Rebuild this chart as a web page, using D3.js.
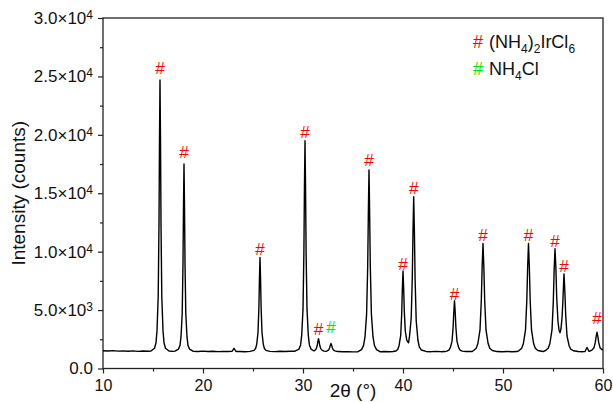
<!DOCTYPE html>
<html>
<head>
<meta charset="utf-8">
<script src="https://cdn.jsdelivr.net/npm/d3@7"></script>
<style>
  body { margin: 0; background: #fff; }
  svg { font-family: "Liberation Sans", Arial, sans-serif; }
</style>
</head>
<body>
<svg id="chart"></svg>
<script>
const width = 613;
const height = 402;

// XRD pattern: [2theta (deg), intensity (counts)]
const pattern = [
  [10.0, 1520], [10.5, 1500], [11.0, 1530], [11.5, 1490], [12.0, 1510], [12.5, 1480],
  [13.0, 1505], [13.5, 1470], [14.0, 1495], [14.5, 1480], [14.8, 1500],
  [15.15, 1730], [15.3, 2200], [15.4, 3240], [15.52, 6140], [15.6, 12400], [15.65, 19600],
  [15.7, 24700], [15.75, 19600], [15.8, 12400], [15.88, 6140], [16.0, 3240], [16.1, 2200],
  [16.25, 1730], [16.6, 1500], [17.0, 1470], [17.2, 1490],
  [17.55, 1660], [17.7, 1980], [17.8, 2700], [17.92, 4700], [18.0, 9020], [18.05, 13980],
  [18.1, 17500], [18.15, 13980], [18.2, 9020], [18.28, 4700], [18.4, 2700], [18.5, 1980],
  [18.65, 1660], [19.0, 1480], [19.5, 1460], [20.0, 1490], [20.5, 1455], [21.0, 1480],
  [21.5, 1445], [22.0, 1470], [22.5, 1450], [22.9, 1470], [23.1, 1720], [23.3, 1460],
  [23.7, 1450], [24.2, 1435], [24.7, 1470],
  [25.1, 1550], [25.26, 1710], [25.37, 2070], [25.5, 3080], [25.59, 5240], [25.645, 7730],
  [25.7, 9500], [25.755, 7730], [25.81, 5240], [25.9, 3080], [26.03, 2070], [26.14, 1710],
  [26.3, 1550], [26.7, 1470], [27.2, 1445], [27.7, 1480], [28.2, 1455], [28.7, 1480],
  [29.2, 1480], [29.6, 1660], [29.76, 2020], [29.87, 2830], [30.0, 5080], [30.09, 9950],
  [30.145, 15540], [30.2, 19500], [30.255, 15540], [30.31, 9950], [30.4, 5080], [30.53, 2830],
  [30.64, 2020], [30.8, 1660], [31.1, 1500],
  [31.2, 1560], [31.33, 1700], [31.43, 1990], [31.49, 2320], [31.55, 2550], [31.61, 2320],
  [31.67, 1990], [31.77, 1700], [31.9, 1570], [32.1, 1490], [32.3, 1470],
  [32.41, 1510], [32.57, 1600], [32.67, 1780], [32.735, 2000], [32.8, 2150], [32.865, 2000],
  [32.93, 1780], [33.03, 1600], [33.19, 1510], [33.5, 1450], [34.0, 1430], [34.5, 1445],
  [35.0, 1420], [35.5, 1440],
  [35.85, 1620], [36.05, 1960], [36.2, 2700], [36.36, 4650], [36.47, 8750], [36.54, 13580],
  [36.6, 17000], [36.66, 13580], [36.73, 8750], [36.84, 4650], [37.0, 2700], [37.15, 1960],
  [37.35, 1620], [37.7, 1440], [38.2, 1455], [38.6, 1440], [39.0, 1450],
  [39.3, 1500], [39.48, 1650], [39.61, 1970], [39.77, 2830], [39.87, 4690], [39.935, 6830],
  [40.0, 8350], [40.065, 6900], [40.13, 4900], [40.23, 3200], [40.38, 2400], [40.55, 2200],
  [40.65, 2750], [40.82, 4300], [40.93, 7780], [41.0, 11800], [41.07, 14700], [41.14, 11700],
  [41.21, 7650], [41.32, 4100], [41.49, 2440], [41.63, 1850], [41.84, 1580], [42.3, 1460],
  [42.8, 1440], [43.3, 1465], [43.8, 1440], [44.2, 1450],
  [44.38, 1490], [44.59, 1580], [44.73, 1780], [44.9, 2320], [45.01, 3500], [45.08, 4840],
  [45.15, 5800], [45.22, 4840], [45.29, 3500], [45.4, 2320], [45.57, 1780], [45.71, 1580],
  [45.92, 1490], [46.3, 1450], [46.9, 1450],
  [47.06, 1540], [47.32, 1730], [47.49, 2140], [47.7, 3300], [47.83, 5800], [47.915, 8670],
  [48.0, 10700], [48.085, 8670], [48.17, 5800], [48.3, 3300], [48.51, 2140], [48.68, 1730],
  [48.94, 1540], [49.4, 1450], [49.9, 1430], [50.4, 1455], [50.9, 1440], [51.4, 1450],
  [51.61, 1540], [51.87, 1730], [52.04, 2140], [52.25, 3300], [52.38, 5800], [52.465, 8670],
  [52.55, 10700], [52.635, 8670], [52.72, 5800], [52.85, 3300], [53.06, 2140], [53.23, 1730],
  [53.49, 1540], [54.0, 1450],
  [54.26, 1540], [54.52, 1730], [54.69, 2140], [54.9, 3300], [55.03, 5700], [55.115, 8460],
  [55.2, 10250], [55.285, 8700], [55.37, 6100], [55.5, 4000], [55.6, 3300], [55.7, 3050],
  [55.8, 3400], [55.9, 4300], [55.98, 5600], [56.03, 6700], [56.1, 8100], [56.185, 6640],
  [56.27, 4580], [56.4, 2780], [56.61, 1950], [56.78, 1650], [57.04, 1520], [57.5, 1450],
  [58.0, 1440], [58.2, 1450], [58.4, 1800], [58.6, 1470],
  [58.72, 1500], [58.89, 1570], [59.1, 1780], [59.23, 2230], [59.315, 2740], [59.4, 3100],
  [59.485, 2740], [59.57, 2230], [59.7, 1780], [59.91, 1600], [60.0, 1640]
];

// "#" peak markers: position, label baseline (counts) and phase
const markerTheta  = [15.7, 18.1, 25.7, 30.2, 31.55, 32.8, 36.6, 40.0, 41.07, 45.15, 48.0, 52.55, 55.2, 56.1, 59.4];
const markerCounts = [25200, 18000, 9700, 19700, 2900, 3050, 17300, 8400, 14900, 5900, 10950, 10950, 10440, 8300, 3800];
const markerPhase  = [0, 0, 0, 0, 0, 1, 0, 0, 0, 0, 0, 0, 0, 0, 0];
const phaseColors  = ["#ff0000", "#00e600"];

// axes
const xTicks = [10, 20, 30, 40, 50, 60];
const xMinor = [15, 25, 35, 45, 55];
const yTicks = [0, 5000, 10000, 15000, 20000, 25000, 30000];
const yMinor = [2500, 7500, 12500, 17500, 22500, 27500];
const yTickMantissa = ["0.0", "5.0", "1.0", "1.5", "2.0", "2.5", "3.0"];
const yTickExp = ["", "3", "4", "4", "4", "4", "4"];

const margin = { left: 103, right: 10, top: 18, bottom: 33.5 };

const svg = d3.select("#chart")
    .attr("width", width)
    .attr("height", height);

const x = d3.scaleLinear().domain([10, 60]).range([margin.left, width - margin.right]);
const y = d3.scaleLinear().domain([0, 30000]).range([height - margin.bottom, margin.top]);

// minor ticks first, then major axes
svg.append("g")
    .attr("transform", `translate(0,${y(0)})`)
    .call(d3.axisBottom(x).tickValues(xMinor).tickSize(3).tickSizeOuter(0).tickFormat(""))
    .call(g => g.select(".domain").remove());

svg.append("g")
    .attr("transform", `translate(${x(10)},0)`)
    .call(d3.axisLeft(y).tickValues(yMinor).tickSize(3).tickSizeOuter(0).tickFormat(""))
    .call(g => g.select(".domain").remove());

const xAxis = svg.append("g")
    .attr("transform", `translate(0,${y(0)})`)
    .call(d3.axisBottom(x).tickValues(xTicks).tickSize(5).tickSizeOuter(0).tickPadding(6));
xAxis.select(".domain").remove();
xAxis.selectAll("text").attr("font-size", 16).attr("fill", "#111")
    .attr("font-family", "Liberation Sans, Arial, sans-serif");

const yAxis = svg.append("g")
    .attr("transform", `translate(${x(10)},0)`)
    .call(d3.axisLeft(y).tickValues(yTicks).tickSize(5).tickSizeOuter(0).tickPadding(5));
yAxis.select(".domain").remove();
yAxis.selectAll(".tick text")
    .attr("font-size", 17).attr("fill", "#111")
    .attr("font-family", "Liberation Sans, Arial, sans-serif")
    .each(function(d, i) {
        const t = d3.select(this).text(null);
        t.append("tspan").text(i === 0 ? yTickMantissa[i] : yTickMantissa[i] + "\u00d710");
        if (yTickExp[i]) t.append("tspan").attr("dy", "-0.42em").attr("font-size", 12).text(yTickExp[i]);
    });

svg.selectAll(".tick line").attr("stroke", "#222").attr("stroke-width", 1.2);

// frame
svg.append("rect")
    .attr("x", x(10)).attr("y", y(30000))
    .attr("width", x(60) - x(10)).attr("height", y(0) - y(30000))
    .attr("fill", "none").attr("stroke", "#222").attr("stroke-width", 1.3);

// pattern line
const line = d3.line().x(d => x(d[0])).y(d => y(d[1]));
svg.append("path")
    .datum(pattern)
    .attr("d", line)
    .attr("fill", "none")
    .attr("stroke", "#000")
    .attr("stroke-width", 1.4)
    .attr("stroke-linejoin", "round");

// peak markers
svg.selectAll(".marker")
    .data(markerTheta)
    .enter().append("text")
    .attr("class", "marker")
    .attr("x", d => x(d))
    .attr("y", (d, i) => y(markerCounts[i]))
    .attr("text-anchor", "middle")
    .attr("font-size", 17)
    .attr("fill", (d, i) => phaseColors[markerPhase[i]])
    .text("#");

// legend
const legendNames = [
  [["(NH", 0], ["4", 1], [")", 0], ["2", 1], ["IrCl", 0], ["6", 1]],
  [["NH", 0], ["4", 1], ["Cl", 0]]
];
legendNames.forEach((parts, i) => {
    const ly = 48 + i * 27;
    svg.append("text")
        .attr("x", 473).attr("y", ly)
        .attr("font-size", 18).attr("fill", phaseColors[i])
        .text("#");
    const t = svg.append("text")
        .attr("x", 489).attr("y", ly)
        .attr("font-size", 18).attr("fill", "#111");
    let sub = false;
    parts.forEach(([s, isSub]) => {
        const sp = t.append("tspan").text(s);
        if (isSub && !sub) { sp.attr("dy", 5).attr("font-size", 12); sub = true; }
        else if (isSub) { sp.attr("font-size", 12); }
        else if (sub) { sp.attr("dy", -5); sub = false; }
    });
});

// axis titles
svg.append("text")
    .attr("x", (x(10) + x(60)) / 2).attr("y", 397)
    .attr("text-anchor", "middle")
    .attr("font-size", 19).attr("fill", "#111")
    .text("2\u03b8 (\u00b0)");

svg.append("text")
    .attr("transform", `translate(25,${(y(0) + y(30000)) / 2}) rotate(-90)`)
    .attr("text-anchor", "middle")
    .attr("font-size", 19).attr("fill", "#111")
    .text("Intensity (counts)");
</script>
</body>
</html>
